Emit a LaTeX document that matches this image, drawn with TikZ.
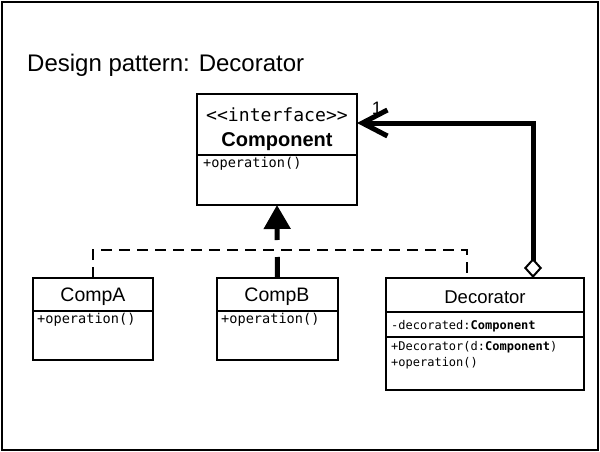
\documentclass[tikz,border=0pt]{standalone}
\usepackage{fontspec}
\setmainfont{Liberation Sans}
\newfontfamily\codefont{DejaVu Sans Mono}
\usetikzlibrary{arrows.meta}
\begin{document}
\begin{tikzpicture}[x=1pt,y=-1pt,
  classbox/.style={draw,line width=2.5pt,inner sep=0pt,outer sep=0pt,anchor=north west},
  sepline/.style={line width=2.5pt},
  cname/.style={font=\fontsize{19.5}{22}\selectfont,inner sep=0pt},
  member/.style={font=\codefont\fontsize{13.6}{15}\selectfont,inner sep=0pt,anchor=west},
  smallmember/.style={font=\codefont\fontsize{12}{14}\selectfont,inner sep=0pt,anchor=west},
  realize/.style={line width=2.5pt,dash pattern=on 11pt off 7pt},
  inherit/.style={line width=5pt,dash pattern=on 21pt off 17pt on 300pt,
    -{Triangle[length=24pt,width=26pt]}},
  aggregate/.style={line width=5pt,
    {Diamond[length=20pt,width=18pt,line width=2pt,fill=white]}-{Straight Barb[length=25pt,width=26pt]}}
]
\useasboundingbox (0,0) rectangle (600,452);
\node[draw,line width=2pt,minimum width=596pt,minimum height=448pt,inner sep=0pt,outer sep=0pt,anchor=north west] (frame) at (2,2) {};

% title
\node[anchor=base west,inner sep=0pt,font=\fontsize{24}{28}\selectfont] (title) at (27,72) {Design pattern: Decorator};

% interface Component
\node[classbox,minimum width=160pt,minimum height=111pt] (comp) at (197,94) {};
\draw[sepline] ([yshift=-61pt]comp.north west) -- ([yshift=-61pt]comp.north east);
\node[inner sep=0pt,font=\codefont\fontsize{18.1}{20}\selectfont] (stereo) at (277,115) {<{}<interface>{}>};
\node[inner sep=0pt,font=\bfseries\fontsize{20}{24}\selectfont] (compname) at (277,142) {Component};
\node[member] (compop) at (203,164) {+operation()};

% CompA
\node[classbox,minimum width=120pt,minimum height=82pt] (compA) at (33,278) {};
\draw[sepline] ([yshift=-33pt]compA.north west) -- ([yshift=-33pt]compA.north east);
\node[cname] (compAname) at (93,297) {CompA};
\node[member] (compAop) at (37,320) {+operation()};

% CompB
\node[classbox,minimum width=121pt,minimum height=82pt] (compB) at (217,278) {};
\draw[sepline] ([yshift=-33pt]compB.north west) -- ([yshift=-33pt]compB.north east);
\node[cname] (compBname) at (277,297) {CompB};
\node[member] (compBop) at (221,320) {+operation()};

% Decorator
\node[classbox,minimum width=198pt,minimum height=112pt] (deco) at (386,278) {};
\draw[sepline] ([yshift=-34pt]deco.north west) -- ([yshift=-34pt]deco.north east);
\draw[sepline] ([yshift=-59pt]deco.north west) -- ([yshift=-59pt]deco.north east);
\node[cname,font=\fontsize{18.5}{22}\selectfont] (deconame) at (485,297) {Decorator};
\node[smallmember] (decoattr) at (391,326) {-decorated:\textbf{Component}};
\node[smallmember] (decoctor) at (391,347) {+Decorator(d:\textbf{Component})};
\node[smallmember] (decoop) at (391,363) {+operation()};

% realisation lines joining the inheritance arrow
\draw[realize] (compA.north) -- ++(0,-28) -| ([xshift=-18pt]deco.north);
\draw[inherit] (compB.north) -- (comp.south);

% aggregation back to the component
\draw[aggregate] ([xshift=48pt]deco.north) |- ([yshift=26.5pt]comp.east);
\node[inner sep=0pt,font=\fontsize{18}{20}\selectfont] (mult) at (377,108) {1};
\end{tikzpicture}
\end{document}
